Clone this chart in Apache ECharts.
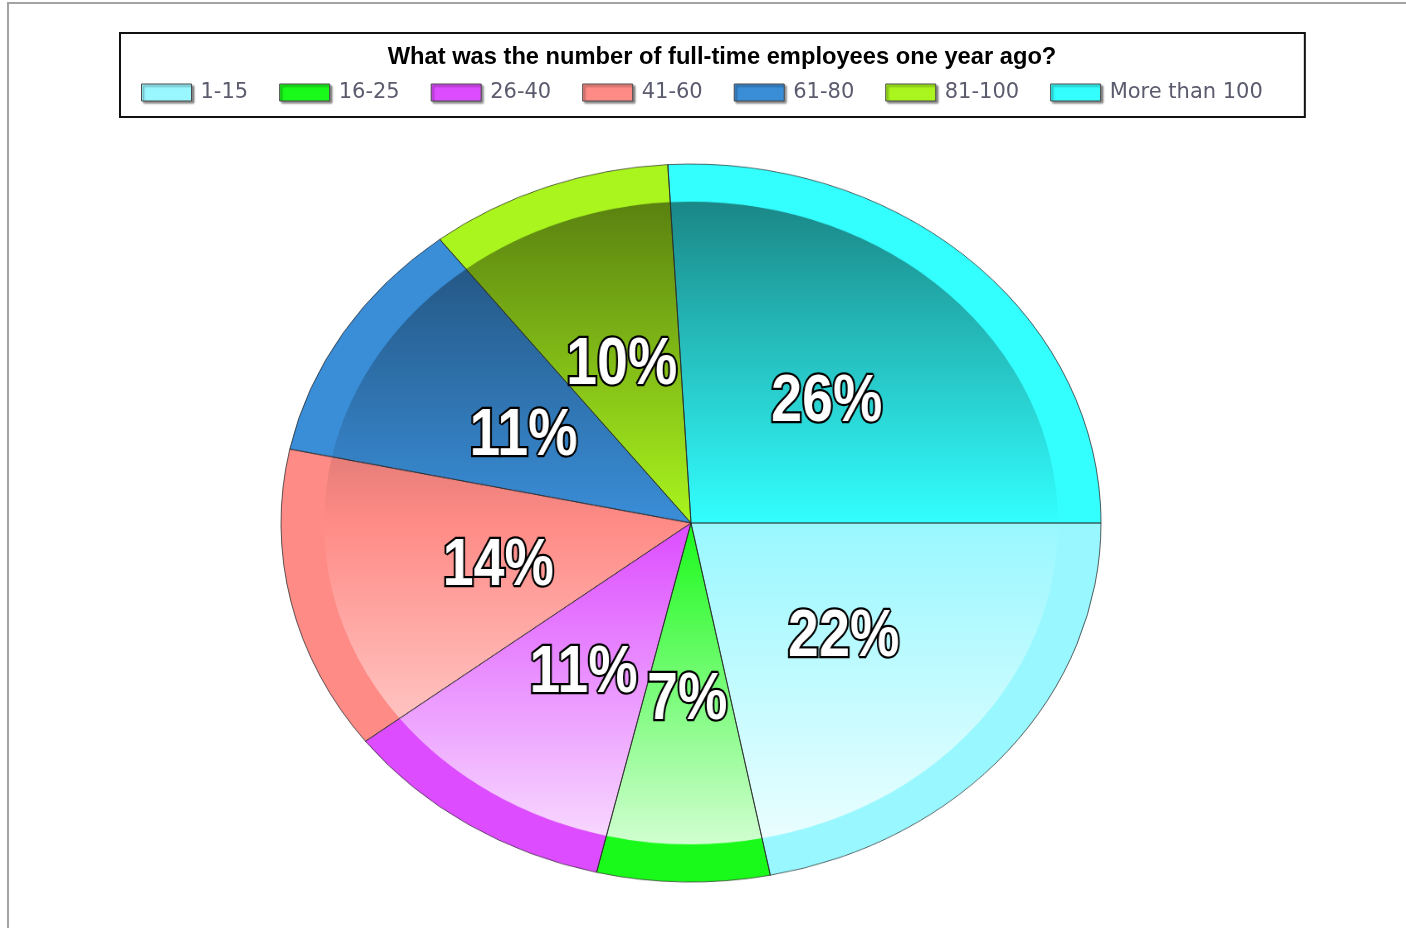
<!DOCTYPE html>
<html>
<head>
<meta charset="utf-8">
<title>Full-time employees one year ago</title>
<script src="https://cdn.jsdelivr.net/npm/echarts@6/dist/echarts.min.js"></script>
<style>
  html, body { margin: 0; padding: 0; background: #fff; overflow: hidden; }
  #page { position: relative; width: 1406px; height: 928px; overflow: hidden; }
  #frame { position: absolute; left: 7px; top: 2px; right: -10px; bottom: -10px;
           border-left: 2px solid #a3a3a3; border-top: 2px solid #a3a3a3; }
  /* the pie is drawn round and squeezed into the ellipse of the original */
  #pie { position: absolute; left: 0; top: 0; width: 1406px; height: 960px;
         transform: scaleY(0.8756); transform-origin: 691px 523px; }
  /* percent labels use a narrow bold face, so squeeze them sideways */
  #labels { position: absolute; left: 0; top: 0; width: 1406px; height: 928px;
            transform: scaleX(0.83); transform-origin: 691px 523px; }
  #front { position: absolute; left: 0; top: 0; width: 1406px; height: 928px; }
</style>
</head>
<body>
<div id="page">
  <div id="frame"></div>
  <div id="pie"></div>
  <div id="labels"></div>
  <div id="front"></div>
</div>
<script>
var titleText = 'What was the number of full-time employees one year ago?';
var categories = ['1-15', '16-25', '26-40', '41-60', '61-80', '81-100', 'More than 100'];
var shares = [21.9, 6.8, 10.9, 13.7, 11.2, 9.6, 25.9];
var palette = ['#99f8ff', '#1afa1a', '#dd4cff', '#ff8b86', '#3a8ed8', '#aaf51e', '#33ffff'];

var CX = 691, CY = 523, R = 410, R_IN = 367;
var SQUASH = 359 / 410, NARROW = 0.83;

// blend a hex colour towards black (0) or white (255)
function mix(hex, target, t) {
  var n = parseInt(hex.slice(1), 16);
  var rgb = [(n >> 16) & 255, (n >> 8) & 255, n & 255].map(function (c) {
    return Math.round(c + (target - c) * t);
  });
  return 'rgb(' + rgb.join(',') + ')';
}

// inner disc: dark on top, plain in the middle, washed out at the bottom
function innerFill(hex) {
  return new echarts.graphic.LinearGradient(0, CY - R_IN, 0, CY + R_IN, [
    { offset: 0, color: mix(hex, 0, 0.47) },
    { offset: 0.5, color: hex },
    { offset: 1, color: mix(hex, 255, 0.8) }
  ], true);
}

function clear() { return 'rgba(0,0,0,0)'; }

function slices(fill) {
  return categories.map(function (name, i) {
    return { name: name, value: shares[i], itemStyle: { color: fill(palette[i]) } };
  });
}

var pieBase = {
  type: 'pie',
  center: [CX, CY],
  startAngle: 0,
  clockwise: true,
  silent: true,
  label: { show: false },
  labelLine: { show: false },
  emphasis: { disabled: true }
};

var pieChart = echarts.init(document.getElementById('pie'));
pieChart.setOption({
  animation: false,
  series: [
    Object.assign({}, pieBase, { radius: [0, R], data: slices(function (c) { return c; }) }),
    Object.assign({}, pieBase, { radius: [0, R_IN], data: slices(innerFill) }),
    Object.assign({}, pieBase, {
      radius: [0, R],
      itemStyle: { borderColor: 'rgba(40,40,40,0.75)', borderWidth: 1 },
      data: slices(clear)
    })
  ]
});

var labelChart = echarts.init(document.getElementById('labels'));
labelChart.setOption({
  animation: false,
  series: [Object.assign({}, pieBase, {
    radius: [0, R],
    label: {
      show: true,
      position: 'inside',
      formatter: function (p) { return Math.round(p.percent) + '%'; },
      color: '#fff',
      fontFamily: '"Liberation Sans", Arial, sans-serif',
      fontWeight: 'bold',
      fontSize: 67,
      textBorderColor: '#000',
      textBorderWidth: 4.5
    },
    // labels come from the round layout: move them into the ellipse and undo the sideways squeeze
    labelLayout: function (p) {
      var r = p.labelRect;
      var dx = (r.x + r.width / 2 - CX) * 0.95;
      var dy = (r.y + r.height / 2 - CY) * 0.95 * SQUASH + 5;
      return { x: CX + dx / NARROW, y: CY + dy };
    },
    data: slices(clear)
  })]
});

var front = echarts.init(document.getElementById('front'));
front.setOption({
  animation: false,
  title: {
    text: titleText,
    left: 717,
    top: 52,
    textAlign: 'center',
    textVerticalAlign: 'middle',
    textStyle: {
      fontFamily: '"Liberation Sans", Arial, sans-serif',
      fontWeight: 'bold',
      fontSize: 23.7,
      color: '#000'
    }
  },
  legend: {
    left: 120,
    top: 33,
    padding: [49, 42, 14, 21],
    borderColor: '#111',
    borderWidth: 2,
    itemGap: 31,
    itemWidth: 50,
    itemHeight: 17,
    icon: 'rect',
    selectedMode: false,
    textStyle: {
      fontFamily: '"DejaVu Sans", Verdana, sans-serif',
      fontSize: 21,
      color: '#5b5b6e',
      padding: [0, 0, 0, 4]
    },
    data: categories.map(function (name, i) {
      return {
        name: name,
        itemStyle: {
          color: palette[i],
          opacity: 1,
          borderColor: '#4a4a4a',
          borderWidth: 1,
          shadowColor: 'rgba(0,0,0,0.45)',
          shadowBlur: 2,
          shadowOffsetX: 2,
          shadowOffsetY: 2
        }
      };
    })
  },
  // invisible copy of the pie that only feeds the legend
  series: [Object.assign({}, pieBase, { radius: [0, R], data: slices(clear) })]
});
</script>
</body>
</html>
